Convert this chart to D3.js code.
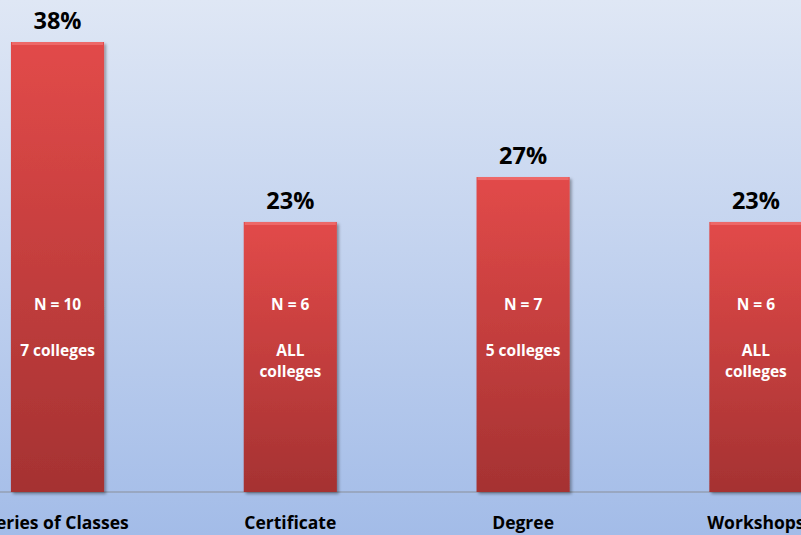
<!DOCTYPE html>
<html><head><meta charset="utf-8">
<script src="https://cdn.jsdelivr.net/npm/d3@7/dist/d3.min.js"></script>
<style>html,body{margin:0;padding:0;overflow:hidden;background:#fff}</style>
</head><body>
<svg id="c" width="801" height="535"></svg>
<script>
const categories = ["Series of Classes", "Certificate", "Degree", "Workshops"];
const values = [38.46, 23.08, 26.92, 23.08];
const valueLabels = ["38%", "23%", "27%", "23%"];
const nLabels = ["N = 10", "N = 6", "N = 7", "N = 6"];
const collegeLabels = [["7 colleges"], ["ALL", "colleges"], ["5 colleges"], ["ALL", "colleges"]];

const W = 801, H = 535;
const svg = d3.select("#c");
const defs = svg.append("defs");

const bg = defs.append("linearGradient").attr("id","bg").attr("x1",0).attr("y1",0).attr("x2",0).attr("y2",1);
bg.append("stop").attr("offset","0%").attr("stop-color","#dfe7f5");
bg.append("stop").attr("offset","100%").attr("stop-color","#a3bce8");

const bar = defs.append("linearGradient").attr("id","bar").attr("x1",0).attr("y1",0).attr("x2",0).attr("y2",1);
bar.append("stop").attr("offset","0%").attr("stop-color","#e24a49");
bar.append("stop").attr("offset","100%").attr("stop-color","#a53232");

const shadow = defs.append("filter").attr("id","sh").attr("x","-20%").attr("y","-20%").attr("width","140%").attr("height","140%");
shadow.append("feDropShadow").attr("dx",2).attr("dy",2).attr("stdDeviation",1.5).attr("flood-color","#000").attr("flood-opacity",0.35);

svg.append("rect").attr("width",W).attr("height",H).attr("fill","url(#bg)");

const x = d3.scaleBand().domain(categories).range([-58.9, 872.3]).paddingInner(0.6).paddingOuter(0.3);
const y = d3.scaleLinear().domain([0, 40]).range([492, 24]);

const font = "'Open Sans', 'DejaVu Sans', sans-serif";

const axis = svg.append("g").attr("transform",`translate(0,${y(0)})`)
  .call(d3.axisBottom(x).tickSize(0).tickPadding(0).tickFormat(""));
axis.select(".domain").attr("stroke","#8a8f99").attr("stroke-width",1).attr("d",`M0,0H${W}`);

const g = svg.append("g");
const bars = g.selectAll("g.b").data(categories).join("g").attr("class","b");

bars.append("rect")
  .attr("x", d => x(d)).attr("width", x.bandwidth())
  .attr("y", (d,i) => y(values[i])).attr("height", (d,i) => y(0) - y(values[i]))
  .attr("fill","url(#bar)").attr("filter","url(#sh)");
bars.append("rect")
  .attr("x", d => x(d)+1).attr("width", x.bandwidth()-2)
  .attr("y", (d,i) => y(values[i])).attr("height", 3)
  .attr("fill","#f07070").attr("opacity",0.8);

bars.append("text")
  .attr("x", d => x(d) + x.bandwidth()/2)
  .attr("y", (d,i) => y(values[i]) - 13)
  .attr("text-anchor","middle").attr("font-family",font).attr("font-weight","bold")
  .attr("font-size",23.5).attr("fill","#000")
  .text((d,i) => valueLabels[i]);

bars.append("text")
  .attr("x", d => x(d) + x.bandwidth()/2).attr("y", 310)
  .attr("text-anchor","middle").attr("font-family",font).attr("font-weight","bold")
  .attr("font-size",15.5).attr("fill","#fff")
  .text((d,i) => nLabels[i]);

bars.each(function(d,i){
  const t = d3.select(this).append("text")
    .attr("text-anchor","middle").attr("font-family",font).attr("font-weight","bold")
    .attr("font-size",15.5).attr("fill","#fff");
  collegeLabels[i].forEach((s,k) => {
    t.append("tspan").attr("x", x(d) + x.bandwidth()/2).attr("y", 355.5 + k*21).text(s);
  });
});

bars.append("text")
  .attr("x", d => x(d) + x.bandwidth()/2).attr("y", 529)
  .attr("text-anchor","middle").attr("font-family",font).attr("font-weight","bold")
  .attr("font-size",17.5).attr("fill","#000")
  .text(d => d);
</script>
</body></html>
